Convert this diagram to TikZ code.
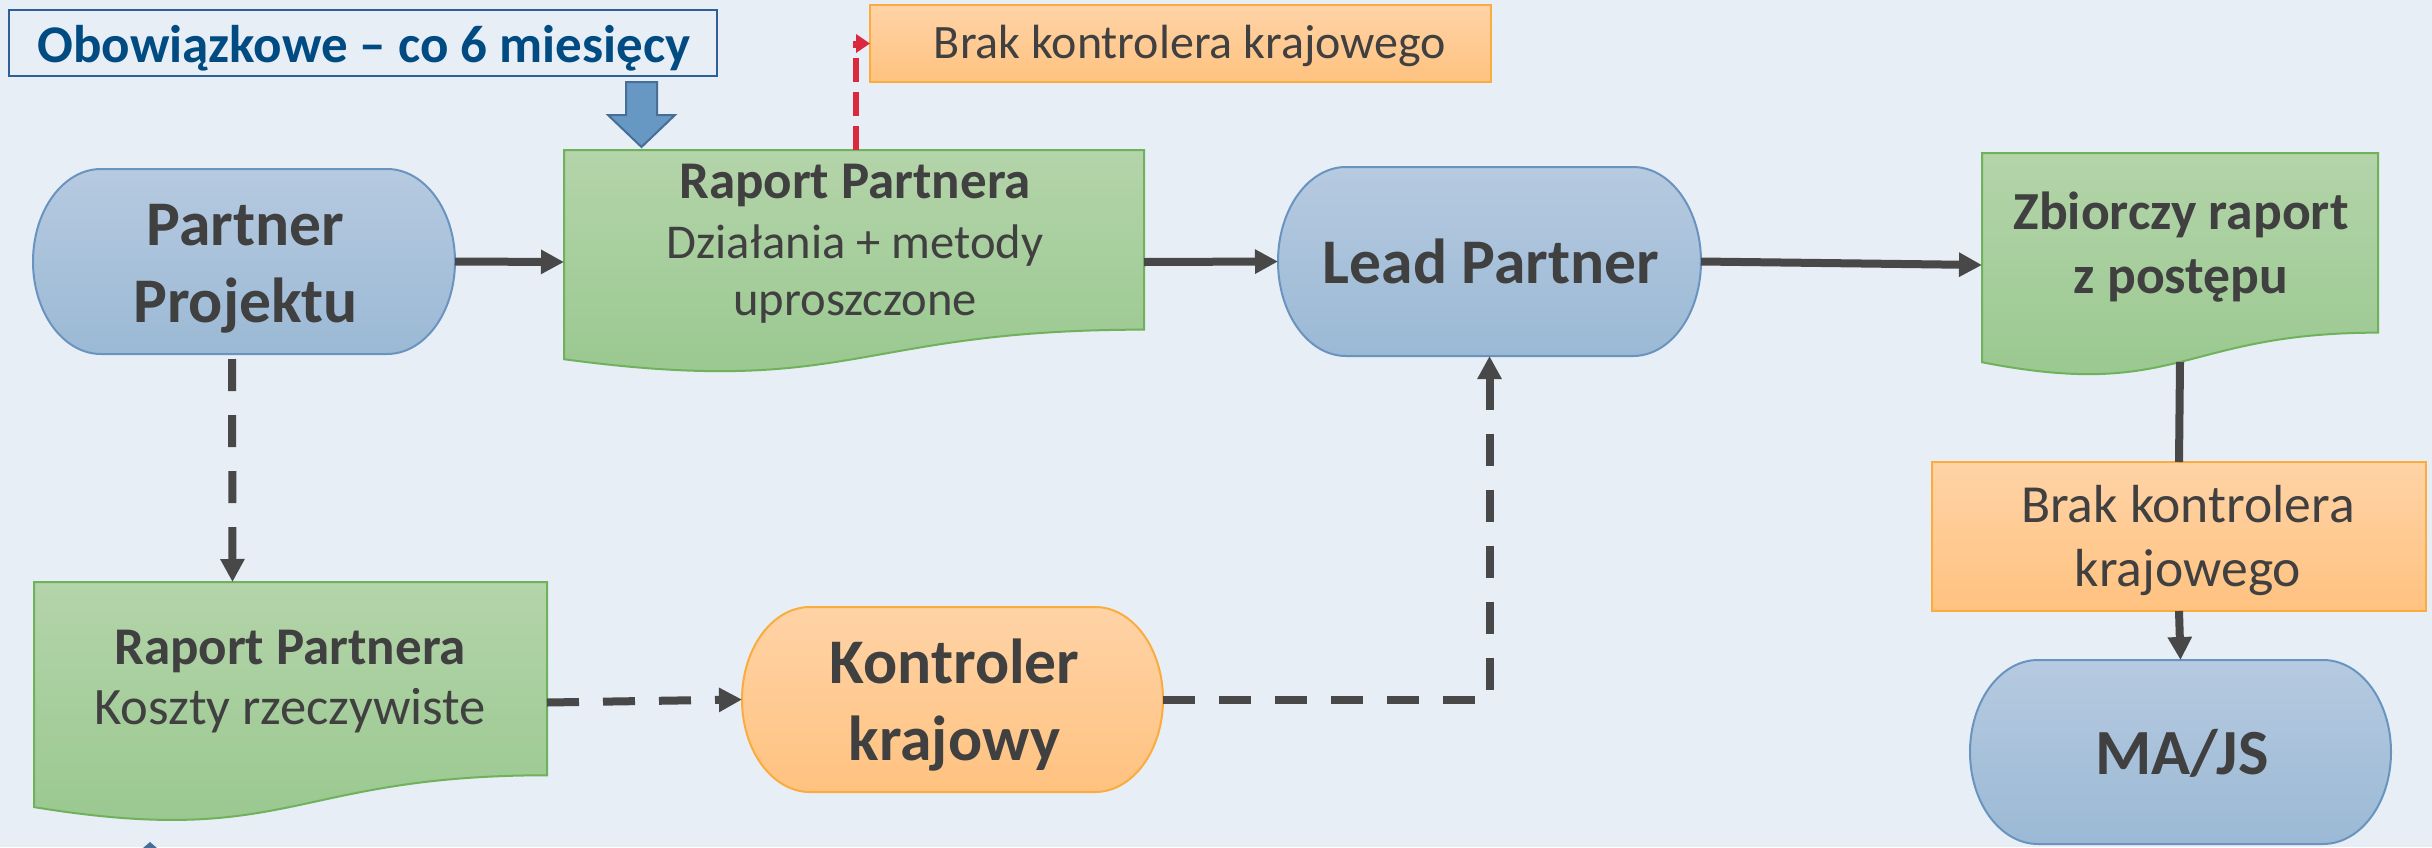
\documentclass[tikz,border=0pt]{standalone}
\usepackage{fontspec}
\setmainfont{Carlito}
\usetikzlibrary{arrows.meta}
\definecolor{bg}{RGB}{232,238,246}
\definecolor{tgray}{RGB}{64,64,64}
\definecolor{dgray}{RGB}{72,72,72}
\definecolor{ttlblue}{RGB}{0,75,130}
\definecolor{ttlborder}{RGB}{45,95,155}
\definecolor{blueT}{RGB}{182,202,224}
\definecolor{blueB}{RGB}{155,185,213}
\definecolor{blueD}{RGB}{105,148,192}
\definecolor{greenT}{RGB}{180,212,170}
\definecolor{greenB}{RGB}{151,199,141}
\definecolor{greenD}{RGB}{112,178,92}
\definecolor{orT}{RGB}{255,211,166}
\definecolor{orB}{RGB}{255,194,128}
\definecolor{orD}{RGB}{250,172,62}
\definecolor{arrB}{RGB}{103,152,196}
\definecolor{arrD}{RGB}{70,110,150}
\definecolor{rred}{RGB}{218,40,62}
\tikzset{
  anc/.style={rectangle, inner sep=0pt, outer sep=0pt},
  txt/.style={anchor=base, inner sep=0pt, outer sep=0pt, text=tgray},
  bluefill/.style={top color=blueT, bottom color=blueB, draw=blueD, line width=1pt},
  greenfill/.style={top color=greenT, bottom color=greenB, draw=greenD, line width=1pt},
  orfill/.style={top color=orT, bottom color=orB, draw=orD, line width=1pt},
  conn/.style={draw=dgray, line width=4pt, -{Triangle[length=11.5pt,width=11.5pt]}},
  dconn/.style={conn, dash pattern=on 16pt off 12pt},
  rconn/.style={draw=rred, line width=3pt, dash pattern=on 12pt off 5pt, -{Triangle[length=7pt,width=9pt]}},
  fbig/.style={font=\bfseries\fontsize{31.8}{36}\selectfont},
  fmid/.style={font=\bfseries\fontsize{26.8}{31}\selectfont},
  fsmb/.style={font=\bfseries\fontsize{26.5}{30}\selectfont},
  fsm/.style={font=\fontsize{24.3}{28}\selectfont},
  fbrak/.style={font=\fontsize{26.8}{31}\selectfont},
}
\newcommand\termshape[4]{% node, rx, ry, style
  \path[#4] ([xshift=#2]#1.north west) -- ([xshift=-#2]#1.north east)
    arc[start angle=90,end angle=-90,x radius=#2,y radius=#3]
    -- ([xshift=#2]#1.south west)
    arc[start angle=270,end angle=90,x radius=#2,y radius=#3] -- cycle;}
\newcommand\docshape[5]{%
  \path[#5] (#1,#2) -- ({#1+#3},#2) -- ({#1+#3},{#2+0.802*#4})
    .. controls ({#1+0.5*#3},{#2+0.802*#4}) and ({#1+0.5*#3},{#2+1.1075*#4}) ..
    (#1,{#2+0.934*#4}) -- cycle;}
\begin{document}
\begin{tikzpicture}[x=0.5pt,y=-0.5pt]
\fill[bg] (0,0) rectangle (2432,847);
\useasboundingbox (0,0) rectangle (2432,847);

% anchor nodes
\node[anc, minimum width=211pt, minimum height=92.5pt] (pp) at (244,261.5) {};
\node[anc, minimum width=290pt, minimum height=112pt] (rp1) at (854,262) {};
\node[anc, minimum width=211.5pt, minimum height=94.5pt] (lp) at (1489.5,261.5) {};
\node[anc, minimum width=198pt, minimum height=112pt] (zb) at (2180,265) {};
\node[anc, minimum width=210.5pt, minimum height=92pt] (mj) at (2180.5,752) {};
\node[anc, minimum width=256.5pt, minimum height=120.5pt] (rp2) at (290.5,702.5) {};
\node[anc, minimum width=210.5pt, minimum height=92.5pt] (kk) at (952.5,699.5) {};

% shapes
\termshape{pp}{34pt}{46.25pt}{bluefill}
\termshape{lp}{34pt}{47.25pt}{bluefill}
\termshape{mj}{34pt}{46pt}{bluefill}
\termshape{kk}{34pt}{46.25pt}{orfill}
\docshape{564}{150}{580}{224}{greenfill}
\docshape{1982}{153}{396}{224}{greenfill}
\docshape{34}{582}{513}{241}{greenfill}
\node[anc, orfill, minimum width=310.5pt, minimum height=38.5pt] (bk1) at (1180.5,43.5) {};
\node[anc, orfill, minimum width=247pt, minimum height=74.5pt] (bk2) at (2179,536.5) {};
\node[anc, draw=ttlborder, line width=1.2pt, minimum width=354pt, minimum height=33pt] (ttl) at (363,43) {};

% block arrow from the title
\path[fill=arrB, draw=arrD, line width=1pt] (626,82) -- (657,82) -- (657,115) -- (675,115)
  -- (641.5,147) -- (608,115) -- (626,115) -- cycle;
% cut-off arrow tip at the bottom edge
\fill[arrD] (150,842) -- (157,848) -- (143,848) -- cycle;

% connectors
\draw[conn] (pp.east) -- (rp1.west);
\draw[conn] (rp1.east) -- (lp.west);
\draw[conn] (lp.east) -- (zb.west);
\draw[conn, -] ([yshift=7.5pt]zb.south) -- (bk2.north);
\draw[conn] (bk2.south) -- (mj.north);
\draw[dconn] ([xshift=-6pt,yshift=-2.5pt]pp.south) -- ([xshift=-29pt]rp2.north);
\draw[dconn] (rp2.east) -- (kk.west);
\draw[dconn] (kk.east) -| (lp.south);
\draw[rconn] ([xshift=1pt]rp1.north) |- (bk1.west);

% texts
\node[txt, text=ttlblue, font=\bfseries\fontsize{26.5}{31}\selectfont] (ttlT) at (364,62) {Obowiązkowe – co 6 miesięcy};
\node[txt, fbig] (ppA) at (245.5,245) {Partner};
\node[txt, fbig] (ppB) at (245.5,322) {Projektu};
\node[txt, fsmb] (rp1A) at (855,198) {Raport Partnera};
\node[txt, fsm] (rp1B) at (855,258) {Działania + metody};
\node[txt, fsm] (rp1C) at (855,315) {uproszczone};
\node[txt, font=\fontsize{24}{28}\selectfont] (bk1T) at (1190,58) {Brak kontrolera krajowego};
\node[txt, fbig] (lpT) at (1491,283) {Lead Partner};
\node[txt, fmid] (zbA) at (2181,229) {Zbiorczy raport};
\node[txt, fmid] (zbB) at (2181,293) {z postępu};
\node[txt, fbrak] (bk2A) at (2188,522) {Brak kontrolera};
\node[txt, fbrak] (bk2B) at (2188,586) {krajowego};
\node[txt, font=\bfseries\fontsize{32.2}{36}\selectfont] (mjT) at (2182,774) {MA/JS};
\node[txt, font=\bfseries\fontsize{26.5}{30}\selectfont] (rp2A) at (290,664) {Raport Partnera};
\node[txt, font=\fontsize{26.3}{30}\selectfont] (rp2B) at (290,724) {Koszty rzeczywiste};
\node[txt, fbig] (kkA) at (954.5,683) {Kontroler};
\node[txt, fbig] (kkB) at (954.5,760) {krajowy};
\end{tikzpicture}
\end{document}
